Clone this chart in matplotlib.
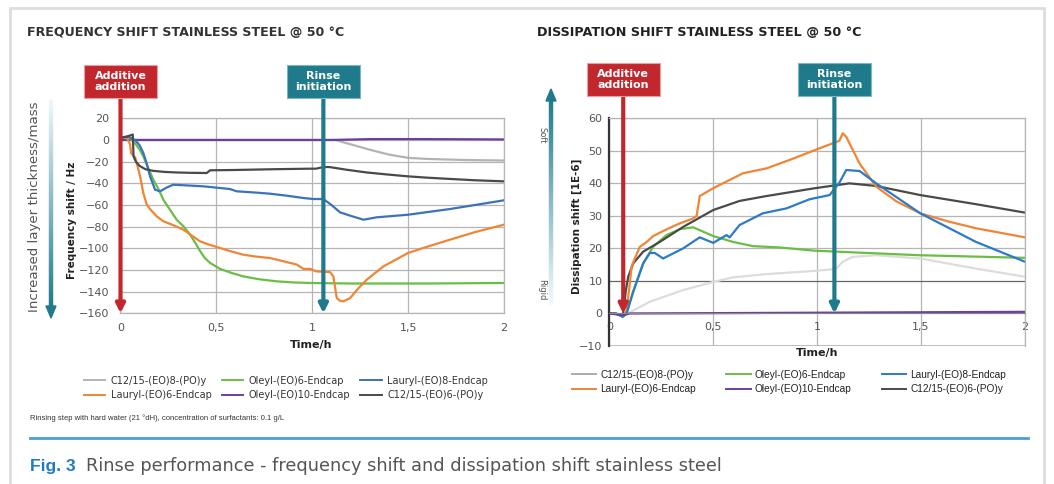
import numpy as np
import matplotlib.pyplot as plt
from matplotlib.patches import Rectangle, Polygon
from matplotlib.collections import LineCollection
from matplotlib.lines import Line2D
from matplotlib.ticker import FuncFormatter

#############################################################################
# Data
#############################################################################

names = ["C12/15-(EO)8-(PO)y", "Oleyl-(EO)6-Endcap", "Lauryl-(EO)8-Endcap",
         "Lauryl-(EO)6-Endcap", "Oleyl-(EO)10-Endcap", "C12/15-(EO)6-(PO)y"]

# frequency shift / Hz
f_t_c12eo8 = [0, 0.5, 1.0, 1.12, 1.2, 1.3, 1.4, 1.5, 1.6, 1.8, 2.0]
f_c12eo8 = [0, 0, 0, 0, -4, -9, -13.5, -16.5, -17.5, -18.5, -19]

f_t_oleyl6 = [0, 0.04, 0.06, 0.08, 0.1, 0.119, 0.145, 0.171, 0.2, 0.223, 0.26, 0.293,
              0.33, 0.363, 0.39, 0.415, 0.44, 0.467, 0.519, 0.58, 0.64, 0.72, 0.815,
              0.9, 0.989, 1.2, 1.6, 2.0]
f_oleyl6 = [2, 3, 0, -4, -9, -15, -26, -36.6, -46, -55, -65, -73.6, -80, -87.4, -95,
            -102.6, -109, -113.5, -119, -122.8, -125.9, -128.5, -130.5, -131.5, -132,
            -132.5, -132.5, -132]

f_t_lauryl8 = [0, 0.04, 0.076, 0.10, 0.119, 0.137, 0.154, 0.17, 0.18, 0.206, 0.24,
               0.275, 0.35, 0.432, 0.5, 0.571, 0.606, 0.7, 0.78, 0.87, 0.954, 1.006,
               1.058, 1.1, 1.145, 1.2, 1.267, 1.336, 1.5, 1.72, 2.0]
f_lauryl8 = [2, 3, 0, -5, -12, -22, -33.6, -41, -45.9, -47.4, -44, -41.3, -42, -42.8,
             -44, -45.3, -47.4, -48.5, -49.6, -51.5, -53.6, -54.5, -54.5, -60, -66.8,
             -70, -73.6, -71.4, -69, -63.7, -55.7]

f_t_lauryl6 = [0, 0.03, 0.05, 0.055, 0.065, 0.076, 0.09, 0.102, 0.119, 0.137, 0.16,
               0.189, 0.223, 0.28, 0.328, 0.37, 0.415, 0.46, 0.502, 0.57, 0.64, 0.7,
               0.78, 0.85, 0.919, 0.954, 0.99, 1.02, 1.093, 1.11, 1.128, 1.145, 1.162,
               1.197, 1.24, 1.284, 1.371, 1.5, 1.6, 1.719, 1.85, 2.0]
f_lauryl6 = [2, 3, -4, -12, -14, -16, -25, -33.6, -49, -59.7, -65, -70.5, -75, -79,
             -82.8, -88, -93.6, -96.5, -98.8, -102.5, -105.9, -107.5, -109, -112, -115,
             -119, -119, -121.3, -122, -126, -146, -148.5, -149, -146, -137, -129,
             -116.7, -104.3, -98.5, -92, -85, -78.2]

f_t_oleyl10 = [0, 1.1, 1.3, 1.6, 2.0]
f_oleyl10 = [0, 0, 0.8, 0.8, 0.5]

f_t_c12eo6 = [0, 0.03, 0.064, 0.068, 0.08, 0.10, 0.13, 0.17, 0.23, 0.29, 0.36, 0.45,
              0.467, 0.6, 0.8, 0.99, 1.02, 1.058, 1.09, 1.18, 1.284, 1.4, 1.5, 1.6,
              1.72, 1.85, 2.0]
f_c12eo6 = [2, 3, 5, -15, -20, -24, -27, -28.5, -29.5, -30, -30.3, -30.5, -28, -27.7,
            -27, -26.5, -26.5, -25, -25, -27.5, -30, -32, -33.6, -34.8, -36, -37.2, -38.2]

# dissipation shift / 1E-6
d_t_c12eo8 = [0, 0.03, 0.065, 0.195, 0.355, 0.5, 0.595, 0.756, 0.988, 1.06, 1.092,
              1.123, 1.171, 1.284, 1.496, 1.764, 2.0]
d_c12eo8 = [0, 0, -0.8, 3.6, 7.2, 9.7, 11.1, 12.1, 13.1, 13.5, 13.8, 15.9, 17.4, 17.9,
            16.9, 13.8, 11.3]

d_t_oleyl6 = [0, 0.03, 0.065, 0.083, 0.115, 0.163, 0.211, 0.275, 0.339, 0.403, 0.5,
              0.595, 0.691, 0.819, 0.988, 1.496, 2.0]
d_oleyl6 = [0, 0, -1, 0, 6.9, 15.4, 20.5, 24.1, 25.9, 26.5, 23.8, 22, 20.7, 20.3,
            19.3, 17.9, 17.1]

d_t_lauryl8 = [0, 0.03, 0.065, 0.083, 0.115, 0.163, 0.195, 0.219, 0.259, 0.355, 0.435,
               0.5, 0.564, 0.579, 0.627, 0.739, 0.852, 0.963, 1.06, 1.107, 1.14, 1.204,
               1.284, 1.496, 1.764, 2.0]
d_lauryl8 = [0, 0, -1, 0, 6.6, 15.4, 18.6, 18.6, 16.9, 20, 23.4, 21.7, 24.1, 23.4,
             27.2, 30.8, 32.3, 35.1, 36.4, 40.2, 44.1, 43.8, 40, 30.8, 22, 15.9]

d_t_lauryl6 = [0, 0.03, 0.065, 0.083, 0.1, 0.107, 0.12, 0.147, 0.18, 0.211, 0.28, 0.339,
               0.403, 0.42, 0.427, 0.435, 0.5, 0.643, 0.756, 0.88, 0.988, 1.107, 1.123,
               1.14, 1.204, 1.284, 1.38, 1.496, 1.63, 1.764, 2.0]
d_lauryl6 = [0, 0, -0.8, 0.8, 10, 14.4, 16.5, 20.5, 22, 23.8, 26, 27.7, 29.2, 30, 32.8,
             36.1, 38.5, 43.1, 44.6, 47.5, 50.2, 53.1, 55.4, 54.3, 46.1, 39, 34.5, 30.8,
             28.3, 26.2, 23.4]

d_t_oleyl10 = [0, 0.065, 0.1, 2.0]
d_oleyl10 = [0, -0.5, 0, 0.5]

d_t_c12eo6 = [0, 0.03, 0.065, 0.072, 0.08, 0.091, 0.115, 0.163, 0.243, 0.355, 0.5,
              0.627, 0.756, 0.988, 1.155, 1.284, 1.496, 1.764, 2.0]
d_c12eo6 = [0, 0, -0.8, 3, 7.2, 11.3, 15.4, 19, 22, 26.6, 31.8, 34.6, 36.1, 38.5, 40,
            39.2, 36.4, 33.6, 31]

freq_ticks = list(range(-160, 21, 20))
diss_ticks = list(range(-10, 61, 10))
time_ticks = [0, 0.5, 1, 1.5, 2]

t_additive_f, t_rinse_f = 0.0, 1.058
t_additive_d, t_rinse_d = 0.067, 1.083

#############################################################################
# Figure helpers
#############################################################################

W, H = 1054, 484
fig = plt.figure(figsize=(W / 100, H / 100), dpi=100)
fig.patch.set_facecolor('white')


def fx(px):
    return px / W


def fy(py):
    return 1 - py / H


def txt(px, py, s, **kw):
    kw.setdefault('ha', 'left')
    kw.setdefault('va', 'center')
    return fig.text(fx(px), fy(py), s, **kw)


def comma(v, _):
    return ('%g' % v).replace('.', ',')


def gradient_arrow(x, y0, y1, c0, c1, head=12, width=3.2):
    # vertical arrow drawn in figure pixels, colour fading from c0 to c1
    n = 80
    ys = np.linspace(y0, y1 - np.sign(y1 - y0) * head * 0.8, n)
    segs = [[(fx(x), fy(ys[i])), (fx(x), fy(ys[i + 1]))] for i in range(n - 1)]
    a = np.linspace(0, 1, n - 1)[:, None]
    cols = (1 - a) * np.array(c0) + a * np.array(c1)
    fig.add_artist(LineCollection(segs, colors=cols, linewidths=width,
                                  transform=fig.transFigure))
    s = np.sign(y1 - y0)
    tri = [(fx(x - 5), fy(y1 - s * head)), (fx(x + 5), fy(y1 - s * head)), (fx(x), fy(y1))]
    fig.add_artist(Polygon(tri, closed=True, color=c1, transform=fig.transFigure))


RED = '#c1272d'
TEAL = '#1f7b8c'
GRID = '#b5b5b5'
TICK = '#555555'

c_light = '#b3b3b3'
c_green = '#6cbd45'
c_blue = '#3a73ba'
c_orange = '#f08536'
c_purple = '#6b3fa0'
c_dark = '#4a4a4a'


def marker(ax, t, ybottom, label, color, box_top):
    # coloured label box above the plot with an arrow down to the axis
    xpx = ax.transData.transform((t, 0))[0]
    w, h = 73, 33
    fig.add_artist(Rectangle((fx(xpx - w / 2), fy(box_top + h)), w / W, h / H,
                             facecolor=color, edgecolor='#e6a0a0' if color == RED else '#7fb6c1',
                             lw=0.8, transform=fig.transFigure, zorder=5))
    fig.text(fx(xpx), fy(box_top + h / 2), label, color='white', fontsize=8,
             fontweight='bold', ha='center', va='center', linespacing=1.05, zorder=6)
    ax.annotate('', xy=(t, ybottom), xycoords='data',
                xytext=(t, fy(box_top + h)), textcoords=('data', 'figure fraction'),
                arrowprops=dict(arrowstyle='-|>', lw=3, color=color, mutation_scale=13,
                                shrinkA=0, shrinkB=0),
                annotation_clip=False, zorder=6)


#############################################################################
# Frequency shift
#############################################################################

ax1 = fig.add_axes([fx(120.5), fy(313.3), (504 - 120.5) / W, (313.3 - 118.3) / H])
ax1.plot(f_t_c12eo8, f_c12eo8, color=c_light, lw=1.6)
ax1.plot(f_t_oleyl10, f_oleyl10, color=c_purple, lw=1.6)
ax1.plot(f_t_oleyl6, f_oleyl6, color=c_green, lw=1.6)
ax1.plot(f_t_lauryl6, f_lauryl6, color=c_orange, lw=1.6)
ax1.plot(f_t_lauryl8, f_lauryl8, color=c_blue, lw=1.6)
ax1.plot(f_t_c12eo6, f_c12eo6, color=c_dark, lw=1.6)
ax1.set_xlim(0, 2)
ax1.set_ylim(-160, 20)
ax1.set_yticks(freq_ticks)
ax1.set_xticks(time_ticks)
ax1.xaxis.set_major_formatter(FuncFormatter(comma))
ax1.grid(True, color=GRID, lw=0.9)
ax1.set_axisbelow(True)
ax1.tick_params(length=0, labelsize=8, labelcolor=TICK)
ax1.tick_params(axis='y', pad=8)
ax1.tick_params(axis='x', pad=7)
for sp in ax1.spines.values():
    sp.set_color(GRID)
    sp.set_linewidth(0.9)

marker(ax1, t_additive_f, -160, 'Additive\naddition', RED, 65)
marker(ax1, t_rinse_f, -160, 'Rinse\ninitiation', TEAL, 65)

txt(311, 345, 'Time/h', fontsize=8, fontweight='bold', ha='center', color='#222')
txt(72, 220, 'Frequency shift / Hz', fontsize=7.5, fontweight='bold', ha='center',
    rotation=90, color='#222')
txt(35, 207, 'Increased layer thickness/mass', fontsize=9.6, ha='center', rotation=90,
    color='#555')
gradient_arrow(51, 100, 318, (0.93, 0.97, 0.98), (0.12, 0.48, 0.55))

txt(27, 33, 'FREQUENCY SHIFT STAINLESS STEEL @ 50 °C', fontsize=9.1, fontweight='bold',
    color='#333')

#############################################################################
# Dissipation shift
#############################################################################

ax2 = fig.add_axes([fx(609.3), fy(346), (1025 - 609.3) / W, (346 - 118.3) / H])
d_light = '#dcdcdc'
ax2.plot(d_t_c12eo8, d_c12eo8, color=d_light, lw=1.6)
ax2.plot(d_t_oleyl6, d_oleyl6, color=c_green, lw=1.6)
ax2.plot(d_t_c12eo6, d_c12eo6, color=c_dark, lw=1.6)
ax2.plot(d_t_lauryl6, d_lauryl6, color=c_orange, lw=1.6)
ax2.plot(d_t_lauryl8, d_lauryl8, color='#2c7bc9', lw=1.6)
ax2.plot(d_t_oleyl10, d_oleyl10, color=c_purple, lw=1.6)
ax2.set_xlim(0, 2)
ax2.set_ylim(-10, 60)
ax2.set_yticks(diss_ticks)
ax2.set_xticks(time_ticks)
ax2.xaxis.set_major_formatter(FuncFormatter(comma))
ax2.grid(True, color=GRID, lw=0.9)
ax2.set_axisbelow(True)
ax2.axhline(10, color='#666666', lw=0.8, zorder=1.2)
ax2.axhline(-10, color=GRID, lw=1.2, zorder=1.2)
ax2.tick_params(length=0, labelsize=8, labelcolor=TICK)
ax2.tick_params(axis='y', pad=5)
ax2.tick_params(axis='x', pad=6)
ax2.spines['bottom'].set_position(('data', 0))
ax2.spines['bottom'].set_color('#888888')
for k in ('top', 'right'):
    ax2.spines[k].set_color(GRID)
    ax2.spines[k].set_linewidth(0.9)
ax2.spines['left'].set_color('#333333')
ax2.spines['left'].set_linewidth(1.6)

marker(ax2, t_additive_d, 0, 'Additive\naddition', RED, 63)
marker(ax2, t_rinse_d, 0, 'Rinse\ninitiation', TEAL, 63)

txt(817, 353, 'Time/h', fontsize=8, fontweight='bold', ha='center', color='#222')
txt(577, 226, 'Dissipation shift [1E-6]', fontsize=7.5, fontweight='bold', ha='center',
    rotation=90, color='#222')
gradient_arrow(551, 305, 89, (0.95, 0.98, 0.99), (0.12, 0.48, 0.55))
txt(542, 135, 'Soft', fontsize=6, ha='center', rotation=-90, color='#555')
txt(542, 290, 'Rigid', fontsize=6, ha='center', rotation=-90, color='#555')

txt(537, 33, 'DISSIPATION SHIFT STAINLESS STEEL @ 50 °C', fontsize=9.2,
    fontweight='bold', color='#222')

#############################################################################
# Legends
#############################################################################

order = [0, 3, 1, 4, 2, 5]   # matplotlib fills columns first
left_cols = [c_light, c_green, c_blue, c_orange, c_purple, c_dark]
right_cols = ['#aaaaaa', c_green, '#2c7bc9', c_orange, c_purple, c_dark]

h1 = [Line2D([], [], color=left_cols[i], lw=1.4) for i in order]
fig.legend(h1, [names[i] for i in order], ncol=3, loc='center',
           bbox_to_anchor=(fx(286), fy(388)), frameon=False, fontsize=7,
           handlelength=2.2, handletextpad=0.6, columnspacing=1.0, labelspacing=0.45,
           labelcolor='#333')

h2 = [Line2D([], [], color=right_cols[i], lw=1.4) for i in order]
fig.legend(h2, [names[i] for i in order], ncol=3, loc='center',
           bbox_to_anchor=(fx(789), fy(382)), frameon=False,
           prop={'family': 'Liberation Sans', 'size': 7.3},
           handlelength=2.4, handletextpad=0.4, columnspacing=3.0, labelspacing=0.45,
           labelcolor='#222')

#############################################################################
# Footnote, caption and frame
#############################################################################

txt(30, 418, 'Rinsing step with hard water (21 °dH), concentration of surfactants: 0.1 g/L',
    fontsize=5.5, family='Liberation Sans', color='#333')

fig.add_artist(Line2D([fx(30), fx(1028)], [fy(438), fy(438)], color='#4d9fd3', lw=2,
                      transform=fig.transFigure))
txt(30, 466, 'Fig. 3', fontsize=12.5, fontweight='bold', color='#1f7cc0',
    family='Liberation Sans')
txt(86, 466, 'Rinse performance - frequency shift and dissipation shift stainless steel',
    fontsize=12.8, color='#555')

fig.add_artist(Rectangle((fx(10), fy(500)), (1044 - 10) / W, (500 - 8) / H, fill=False,
                         edgecolor='#dddddd', lw=2, transform=fig.transFigure))

fig.savefig('out.png', dpi=100)
